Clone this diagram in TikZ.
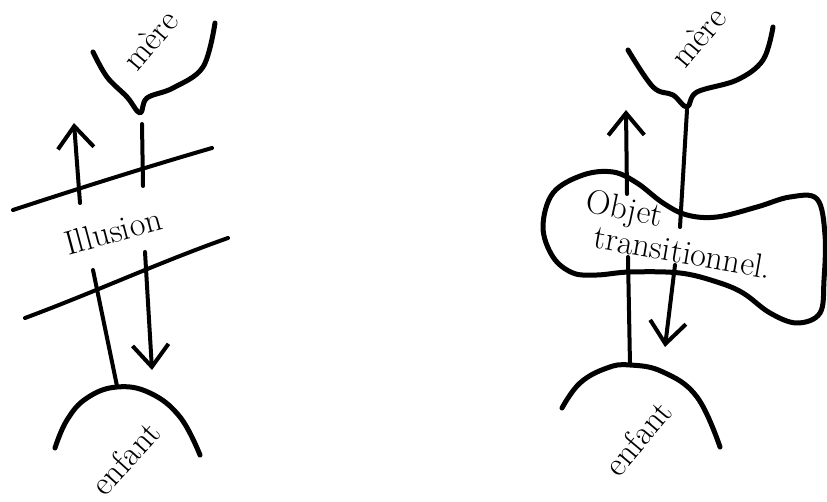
\documentclass[tikz,border=0pt]{standalone}
\usepackage{fontspec}
\usepackage{tikz}
\usetikzlibrary{arrows.meta}

\begin{document}
\begin{tikzpicture}[
  x=1pt, y=-1pt,
  lbl/.style={inner sep=1pt, font=\fontsize{34}{38}\selectfont},
  cup/.style={line width=5pt, line cap=round, line join=round},
  ln/.style={line width=4pt, line cap=round},
  arr/.style={ln, -{Straight Barb[length=22pt, width=36pt, line width=4pt]}}
]
\useasboundingbox (0,0) rectangle (827,502);

% left: illusion
\node[lbl, rotate=50] (mere1) at (150,40) {mère};
\node[lbl, rotate=15] (illu) at (113,231) {Illusion};
\node[lbl, rotate=48] (enf1) at (125,458) {enfant};

\draw[cup] plot[smooth, tension=0.6] coordinates {(93,52) (107,77) (127,97) (140,113) (147,98) (173,88) (203,67) (215,23)};
\draw[cup] plot[smooth, tension=0.7] coordinates {(55,448) (67,420) (87,398) (117,387) (150,393) (180,417) (200,455)};

\coordinate (up1a) at (80,203);
\coordinate (up1b) at (74,123);
\coordinate (m1a) at (142,124);
\coordinate (m1b) at (143,186);
\coordinate (dn1a) at (145,252);
\coordinate (dn1b) at (152,370);
\coordinate (c1a) at (93,270);
\coordinate (c1b) at (117,386);
\coordinate (la) at (13,210);
\coordinate (lb) at (212,148);
\coordinate (lc) at (25,318);
\coordinate (ld) at (228,238);

\draw[ln] (la) .. controls (80,188) and (150,166) .. (lb);
\draw[ln] (lc) .. controls (95,292) and (160,262) .. (ld);
\draw[ln] (m1a) -- (m1b);
\draw[ln] (c1a) -- (c1b);
\draw[arr] (up1a) -- (up1b);
\draw[arr] (dn1a) -- (dn1b);

% right: objet transitionnel
\node[lbl, rotate=50] (mere2) at (698,37) {mère};
\node[lbl, rotate=-12] (objet) at (624,211) {Objet};
\node[lbl, rotate=-10] (trans) at (683,252) {transitionnel.};
\node[lbl, rotate=50] (enf2) at (638,438) {enfant};

\draw[cup] plot[smooth, tension=0.6] coordinates {(628,50) (653,87) (673,95) (687,107) (697,92) (737,80) (763,60) (773,27)};
\draw[cup] plot[smooth, tension=0.7] coordinates {(562,408) (580,383) (607,368) (630,365) (663,372) (697,397) (720,447)};
\draw[cup] plot[smooth cycle, tension=0.6] coordinates {(543,227) (553,193) (583,175) (613,172) (637,183) (663,203) (687,215) (717,217) (757,207) (790,197) (817,199) (825,235) (824,280) (820,313) (797,323) (770,313) (743,293) (717,282) (680,273) (630,272) (597,275) (573,273) (553,257)};

\coordinate (up2a) at (627,194);
\coordinate (up2b) at (626,110);
\coordinate (m2a) at (687,110);
\coordinate (m2b) at (680,227);
\coordinate (dn2a) at (675,265);
\coordinate (dn2b) at (665,347);
\coordinate (c2a) at (628,257);
\coordinate (c2b) at (630,365);

\draw[ln] (m2a) -- (m2b);
\draw[ln] (c2a) -- (c2b);
\draw[arr] (up2a) -- (up2b);
\draw[arr] (dn2a) -- (dn2b);

\end{tikzpicture}
\end{document}
